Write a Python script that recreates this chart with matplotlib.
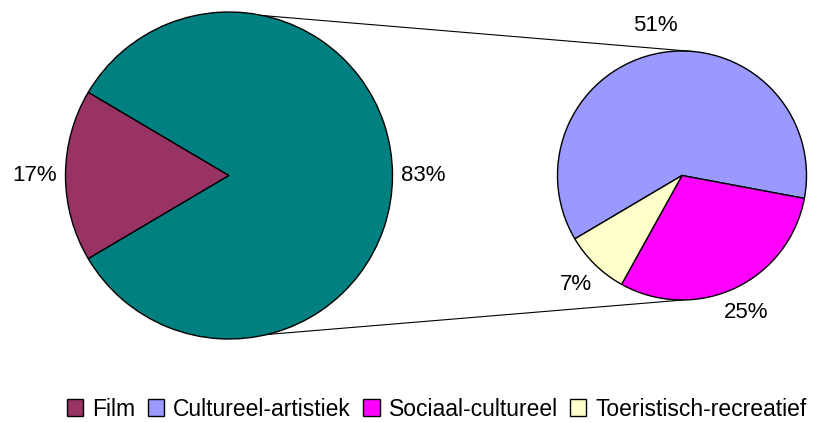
import numpy as np
import matplotlib
matplotlib.use("Agg")
import matplotlib.pyplot as plt
from matplotlib.patches import ConnectionPatch

plt.rcParams['font.family'] = ['Liberation Sans', 'DejaVu Sans']

# data (percent of total)
main_labels = ['Film', 'Overig']
main_values = [17, 83]
sub_labels = ['Cultureel-artistiek', 'Sociaal-cultureel', 'Toeristisch-recreatief']
sub_values = [51, 25, 7]

main_colors = ['#993366', '#008080']
sub_colors = ['#9999FF', '#FF00FF', '#FFFFCC']

W, H = 817, 422
fig = plt.figure(figsize=(W / 100, H / 100), dpi=100)

# pie axes placed in pixels (center, radius)
def pie_axes(cx, cy, r):
    ax = fig.add_axes([(cx - r) / W, (H - cy - r) / H, 2 * r / W, 2 * r / H])
    ax.axis('off')
    return ax

def fix_limits(ax):
    ax.set_xlim(-1, 1)
    ax.set_ylim(-1, 1)
    ax.set_aspect('equal')

ax1 = pie_axes(229, 175.5, 163.5)
ax2 = pie_axes(682, 175.5, 124.5)

wedge_kw = dict(edgecolor='black', linewidth=1.0)

w1, t1 = ax1.pie(main_values, colors=main_colors, startangle=210.6, counterclock=False,
                 labels=[f"{v}%" for v in main_values], labeldistance=1.19,
                 wedgeprops=wedge_kw, radius=1, textprops=dict(fontsize=16))
w2, t2 = ax2.pie(sub_values, colors=sub_colors, startangle=210.6, counterclock=False,
                 labels=[f"{v}%" for v in sub_values], labeldistance=1.22,
                 wedgeprops=wedge_kw, radius=1, textprops=dict(fontsize=16))
fix_limits(ax1)
fix_limits(ax2)
for t in list(t1) + list(t2):
    t.set_ha('center')
    t.set_va('center')

# connector lines between the two pies
for a1, a2 in [(78, 85), (-76.5, -89.5)]:
    p1 = (np.cos(np.radians(a1)), np.sin(np.radians(a1)))
    p2 = (np.cos(np.radians(a2)), np.sin(np.radians(a2)))
    con = ConnectionPatch(xyA=p1, coordsA=ax1.transData, xyB=p2, coordsB=ax2.transData,
                          color='black', linewidth=0.8)
    fig.add_artist(con)

handles = [w1[0]] + list(w2)
fig.legend(handles, ['Film'] + sub_labels, loc='center', bbox_to_anchor=(437 / W, 1 - 409 / H),
           ncol=4, frameon=False, fontsize=16.5, handlelength=0.7, handleheight=0.7,
           handletextpad=0.4, columnspacing=0.55, borderpad=0)

fig.savefig('out.png', dpi=100)
